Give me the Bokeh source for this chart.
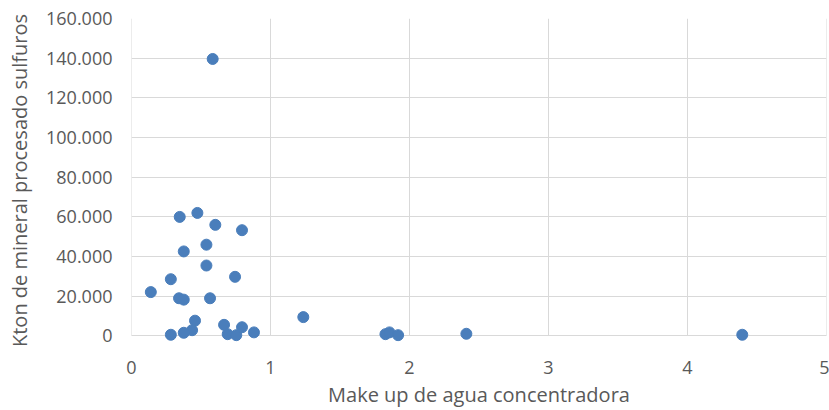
from bokeh.plotting import figure
from bokeh.models import ColumnDataSource, FixedTicker, Range1d
from bokeh.embed import file_html
from bokeh.resources import INLINE

# Data
make_up_agua = [0.347, 0.474, 0.603, 0.795, 0.539, 0.376, 0.539, 0.745, 0.283, 0.139,
                0.342, 0.376, 0.565, 0.457, 0.436, 0.376, 0.283, 0.666, 0.692, 0.754,
                0.795, 0.881, 1.236, 1.827, 1.856, 1.918, 0.584, 2.409, 4.394]
kton_sulfuros = [60000, 62000, 56000, 53300, 46000, 42600, 35500, 29800, 28600, 22100,
                 19000, 18300, 19000, 7700, 2900, 1600, 600, 5600, 900, 400,
                 4400, 1800, 9500, 900, 1800, 400, 139600, 1100, 600]

x_ticks = [0, 1, 2, 3, 4, 5]
x_tick_labels = ["0", "1", "2", "3", "4", "5"]
y_ticks = [0, 20000, 40000, 60000, 80000, 100000, 120000, 140000, 160000]
y_tick_labels = ["0", "20.000", "40.000", "60.000", "80.000", "100.000",
                 "120.000", "140.000", "160.000"]

x_title = "Make up de agua concentradora"
y_title = "Kton de mineral procesado sulfuros"

FONT = "Open Sans"
TXT = "#595959"
GRID = "#d9d9d9"
BLUE = "#4a7ebb"

Y_MIN, Y_MAX = 0, 160000
# small extra room below zero so markers sitting on the axis are not clipped
y_pad = 3300

source = ColumnDataSource(data=dict(x=make_up_agua, y=kton_sulfuros))
grid_src = ColumnDataSource(data=dict(x=x_ticks,
                                      y0=[Y_MIN] * len(x_ticks),
                                      y1=[Y_MAX] * len(x_ticks)))

p = figure(width=829, height=410, output_backend="svg", toolbar_location=None,
           x_range=Range1d(0, 5), y_range=Range1d(Y_MIN - y_pad, Y_MAX),
           min_border_left=131, min_border_top=18, min_border_bottom=68,
           min_border_right=3)
p.outline_line_color = None
p.background_fill_color = "white"
p.border_fill_color = "white"

# vertical grid lines limited to the data area (0 .. 160.000)
p.segment(x0="x", y0="y0", x1="x", y1="y1", source=grid_src,
          line_color=GRID, line_width=1)

p.scatter("x", "y", source=source, size=11, fill_color=BLUE, line_color=BLUE)

p.xaxis.ticker = FixedTicker(ticks=x_ticks)
p.yaxis.ticker = FixedTicker(ticks=y_ticks)
p.xaxis.major_label_overrides = {t: l for t, l in zip(x_ticks, x_tick_labels)}
p.yaxis.major_label_overrides = {t: l for t, l in zip(y_ticks, y_tick_labels)}

for ax in (p.xaxis, p.yaxis):
    ax.axis_line_color = None
    ax.major_tick_line_color = None
    ax.minor_tick_line_color = None
    ax.major_tick_in = 0
    ax.major_tick_out = 0
    ax.major_label_text_font = FONT
    ax.major_label_text_font_size = "18px"
    ax.major_label_text_color = TXT
    ax.axis_label_text_font = FONT
    ax.axis_label_text_font_size = "20px"
    ax.axis_label_text_color = TXT
    ax.axis_label_text_font_style = "normal"

p.xaxis.axis_label = x_title
p.yaxis.axis_label = y_title
p.yaxis.major_label_standoff = 19
p.xaxis.major_label_standoff = 18
p.yaxis.axis_label_standoff = 10
p.xaxis.axis_label_standoff = 4

p.xgrid.visible = False
p.ygrid.grid_line_color = GRID
p.ygrid.grid_line_width = 1

open("out.html", "w").write(file_html(p, INLINE))
